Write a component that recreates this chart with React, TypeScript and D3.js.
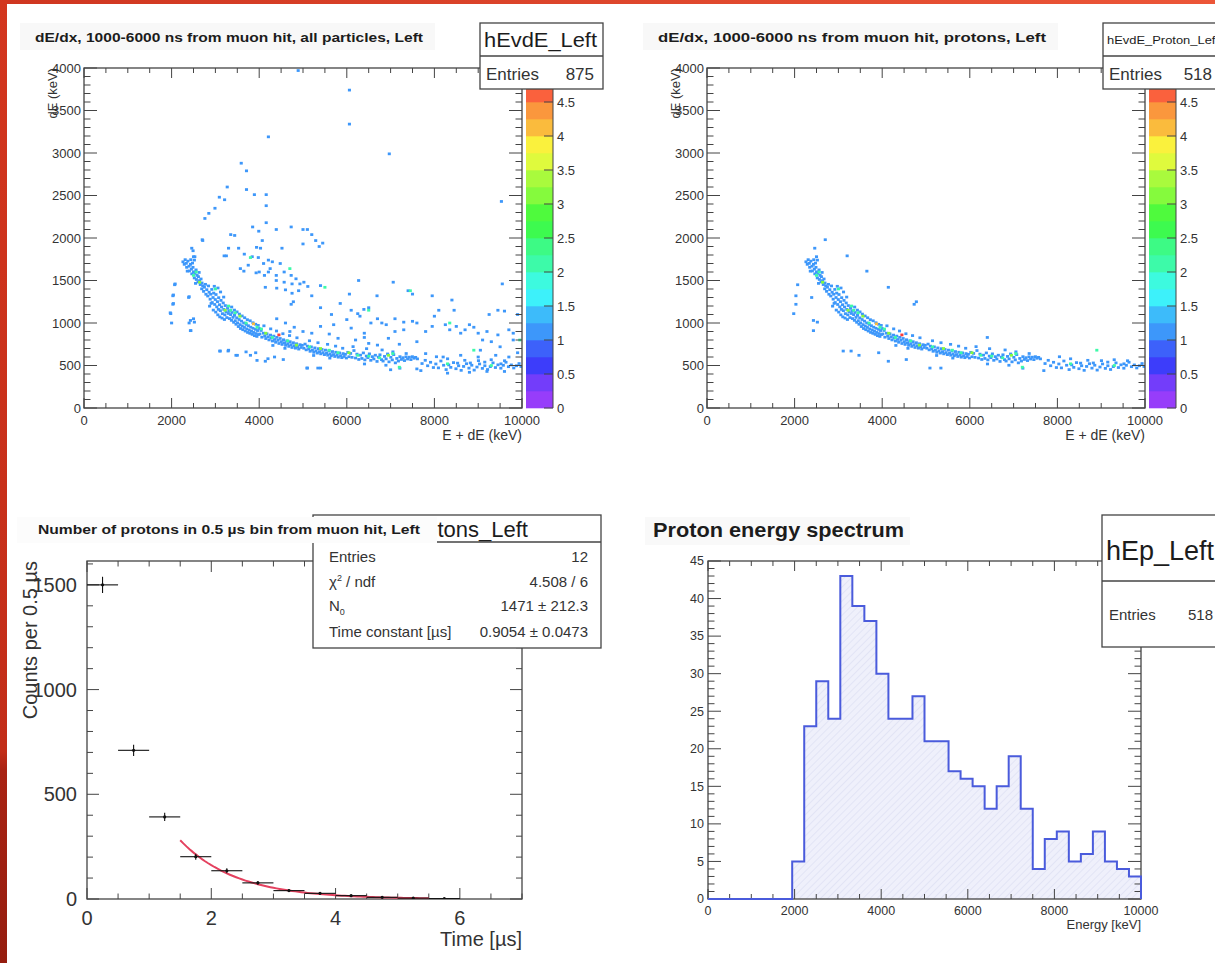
import React from 'react';
import * as d3 from 'd3';

const FONT = '"Liberation Sans", Arial, Helvetica, sans-serif';
const INK = '#1c1c1c';
const AXIS = '#444';

// ---- dE/dx maps: bins hit once, [E + dE (keV), dE (keV)] ----
const protonHits: [number, number][] = [
  [2260,1720],[2290,1690],[2310,1745],[2335,1702],[2345,1655],[2372,1728],[2398,1668],[2405,1612],[2432,1690],[2451,1633],
  [2463,1578],[2487,1655],[2502,1602],[2519,1530],[2533,1584],[2558,1625],[2566,1512],[2581,1560],[2604,1483],[2612,1545],
  [2637,1498],[2655,1452],[2671,1518],[2688,1402],[2693,1471],[2438,1745],[2476,1705],[2547,1466],[2628,1595],[2359,1610],
  [2712,1438],[2731,1372],[2748,1421],[2772,1455],[2784,1338],[2803,1392],[2826,1317],[2842,1436],[2857,1362],[2881,1280],
  [2893,1338],[2918,1395],[2927,1241],[2946,1300],[2961,1352],[2984,1218],[2997,1276],[3013,1335],[3032,1190],[3046,1251],
  [3068,1160],[3075,1298],[3094,1215],[3113,1145],[3127,1266],[3141,1188],[3160,1110],[3178,1236],[3192,1160],[3215,1096],
  [3226,1205],[3244,1132],[3262,1064],[3279,1172],[3295,1112],[2868,1198],[2903,1230],[2952,1152],[3008,1128],[3056,1096],
  [3101,1072],[3152,1058],[3206,1041],[3058,1412],[3117,1365],[2975,1432],[3189,1305],
  [3314,1141],[3322,1052],[3349,1098],[3366,1031],[3381,1124],[3402,1066],[3418,1008],[3437,1090],[3452,1027],[3471,985],
  [3488,1061],[3507,1002],[3524,958],[3541,1041],[3563,981],[3575,935],[3596,1022],[3612,964],[3627,921],[3648,1001],
  [3661,948],[3682,905],[3703,983],[3718,931],[3736,889],[3752,968],[3771,916],[3788,878],[3806,951],[3822,903],
  [3841,866],[3858,938],[3876,889],[3893,851],[3912,925],[3928,876],[3947,842],[3963,911],[3981,864],[3996,936],
  [3371,1188],[3433,1152],[3492,1131],[3547,1105],[3609,1083],[3668,1062],[3729,1039],[3793,1026],[3857,1003],[3918,985],
  [3977,972],
  [4014,871],[4043,912],[4062,833],[4098,880],[4127,846],[4152,817],[4176,873],[4203,838],[4224,801],[4257,858],
  [4271,823],[4302,788],[4333,846],[4351,806],[4376,773],[4402,831],[4428,796],[4451,759],[4478,818],[4505,781],
  [4523,748],[4556,803],[4577,768],[4604,737],[4631,790],[4652,757],[4677,725],[4705,780],[4726,745],[4750,712],
  [4779,768],[4801,733],[4827,704],[4852,756],[4876,722],[4903,693],[4931,745],[4955,712],[4983,738],[4108,967],
  [4262,931],[4395,906],[4541,874],[4693,852],[4862,826],[4312,736],[4588,702],
  [5018,703],[5047,752],[5073,684],[5102,728],[5131,695],[5163,667],[5189,719],[5214,681],[5247,655],[5271,707],
  [5296,672],[5327,646],[5352,698],[5378,663],[5406,637],[5433,689],[5457,652],[5488,628],[5512,681],[5539,645],
  [5566,621],[5591,673],[5618,637],[5645,614],[5672,664],[5697,629],[5726,606],[5751,656],[5778,622],[5806,598],
  [5833,648],[5859,615],[5887,592],[5914,640],[5938,606],[5967,632],[5990,588],[5148,791],[5342,768],[5561,749],
  [5744,728],[5906,703],[5243,618],[5612,587],
  [6024,655],[6051,603],[6087,642],[6119,596],[6163,676],[6201,588],[6232,634],[6274,571],[6311,622],[6345,583],
  [6378,648],[6412,566],[6447,611],[6481,592],[6516,637],[6548,561],[6583,604],[6617,577],[6652,621],[6690,548],
  [6723,598],[6757,626],[6794,569],[6828,552],[6861,607],[6897,578],[6932,636],[6964,543],[7005,597],[7038,566],
  [7071,628],[7109,531],[7142,583],[7178,552],[7213,604],[7246,571],[7283,592],[7317,558],[7352,602],[7389,576],
  [7426,598],[7463,569],[7497,604],[7534,585],[7571,596],[7612,578],[6143,722],[6452,698],[6806,683],[7053,661],
  [7356,641],[6404,518],[6893,503],[7211,468],
  [7718,523],[7791,561],[7846,497],[7912,538],[7977,476],[8033,518],[8092,472],[8148,553],[8211,503],[8268,452],
  [8327,507],[8374,478],[8436,534],[8492,462],[8553,497],[8611,443],[8667,489],[8732,521],[8789,469],[8853,503],
  [8908,446],[8972,482],[9031,518],[9095,466],[9152,497],[9214,453],[9276,487],[9338,531],[9393,476],[9452,508],
  [9517,468],[9573,502],[9634,538],[9691,486],[9756,507],[9812,471],[9874,497],[9933,523],[9978,488],[8047,603],
  [8301,579],[8694,561],[9006,557],[9297,568],[9602,556],[8530,528],[9150,540],[8820,530],[9520,520],
  [2070,1450],[2030,1320],[2030,1220],[1980,1110],[2390,1300],[2430,1030],[2520,1010],[2430,910],[2700,1980],[2460,1880],
  [2500,1780],[2520,1740],[3200,1790],[3650,1610],[4140,1420],[4730,1220],[4780,1250],[3110,670],[3290,670],[3470,620],
  [3920,650],[4140,550],[4550,570],[5090,470],[5340,470],[6400,830],[7690,440],
];

// bins with several entries: [E + dE, dE, entries]
const protonMulti: [number, number, number][] = [
  [2500,1560,2],[2640,1480,3],[2560,1600,2],[3000,1400,2],[3220,1150,3],[3300,1200,2],[3450,1120,2],[3560,1080,3],
  [3700,1000,2],[3870,990,4],[3950,950,2],[4150,880,3],[4300,830,2],[4450,860,5],[4650,790,2],[4850,740,3],
  [5150,720,2],[5400,700,3],[5600,680,2],[6050,650,3],[6250,620,2],[6500,610,2],[6750,590,2],[6950,620,3],
  [7050,640,2],[7200,480,2],[8300,520,2],[8900,680,2],[9300,500,2],[5800,650,2],[4050,930,2],[3350,1150,2],
];

// non-proton entries, only in the all-particle map
const otherHits: [number, number][] = [
  [6060,3740],[6060,3340],[4210,3190],[6970,2990],[3590,2880],[3710,2790],[3270,2600],[3710,2570],[3090,2480],[3210,2450],
  [3890,2510],[4160,2510],[4160,2380],[2990,2350],[2850,2290],[2760,2230],[9530,2430],[4890,3970],[4160,2180],
  [3350,2040],[3440,2030],[3850,2130],[3990,2080],[4390,2100],[4730,2130],[5000,2100],[5100,2100],[5200,2040],[5290,1970],
  [5450,1940],[5370,1900],[5000,1930],[4520,1880],[4070,1970],[4030,1880],[3940,1890],[3530,1880],[3300,1880],[2710,1970],
  [2490,1850],[3250,1790],[3660,1810],[3840,1780],[3980,1770],[4210,1740],[4300,1720],[4480,1700],[4250,1640],[4210,1600],
  [4390,1560],[4570,1600],[4730,1560],[4840,1520],[4390,1500],[4570,1480],[4750,1460],[4930,1460],[5020,1480],[5110,1430],
  [3750,1680],[3570,1640],[3930,1590],[4100,1700],[4000,1600],[4120,1560],[4400,1410],[4600,1390],[4750,1350],[4900,1380],
  [5200,1320],[5400,1440],
  [7060,1480],[6270,1500],[6060,1340],[6690,1320],[6390,1160],[6250,1110],[5850,1230],[6100,1150],[5400,1180],[5650,1100],
  [6000,1040],[6300,1080],[6500,1180],[6700,1050],[6800,1000],[6550,1000],[6900,980],[7100,1050],[7300,1010],[7500,1020],
  [7600,1000],[7400,1380],[7500,1340],[7950,1320],[8400,1270],[8450,1150],[8100,1150],[8000,1080],[8250,980],[8500,960],
  [8700,920],[8900,950],[9000,880],[9200,900],[9450,860],[9700,920],[9800,880],[9900,1100],[9600,1140],[9250,1100],
  [9450,1150],[9550,1460],[8800,980],[8350,920],[8600,880],[7800,900],[7950,960],[7300,920],[7100,900],[6950,820],
  [9100,800],[9300,780],[9800,800],[9500,720],[9050,680],[7600,780],[7200,750],[6700,740],[6400,880],[6100,940],
  [5700,980],[5400,960],[5200,880],[5000,900],[4800,950],[4600,1000],[4400,1050],[2000,1000],[1970,1120],[2040,1330],
  [2080,1460],[2040,1230],[2400,1000],[2440,910],[2400,1310],[2530,1780],[2500,1050],[3100,670],[3300,680],[3500,620],
  [3700,660],[3950,560],[4200,580],[4350,600],[5100,470],[5400,470],[3800,620],[4700,900],[5600,870],[5800,820],
  [6200,800],[6500,760],[7800,640],[8200,600],[8600,620],[9000,600],[9400,620],[9700,600],[9900,650],[7000,450],
  [7600,460],[8300,410],[8800,420],[9200,430],[9600,430],
];
const otherMulti: [number, number, number][] = [
  [4700,1640,2],[5500,1420,2],[7450,1380,2],[3800,1770,2],[6500,1150,2],[9950,800,2],[8350,1000,2],
];
const allEntries = 875;
const protonEntries = 518;

// ---- proton arrival time after the muon hit (0.5 us bins) ----
const timeBinCenters = [0.25, 0.75, 1.25, 1.75, 2.25, 2.75, 3.25, 3.75, 4.25, 4.75, 5.25, 5.75];
const timeCounts = [1500, 710, 392, 202, 135, 77, 40, 27, 16, 8, 4, 2];
const fitN0 = 1471;
const fitTau = 0.9054;
const fitFrom = 1.5;
const fitTo = 5.5;

// ---- proton energy spectrum, 36 bins over 0-10000 keV ----
const energyCounts = [0, 0, 0, 0, 0, 0, 0, 5, 23, 29, 24, 43, 39, 37, 30, 24, 24, 27, 21, 21, 17, 16, 15, 12, 15, 19, 12, 4, 8, 9, 5, 6, 9, 5, 4, 3];

const zMax = 5;
const zLevels = 20;
const binE = 70;
const binDE = 32;

type Tick = { v: number; major: boolean };
function makeTicks(start: number, end: number, step: number, every: number): Tick[] {
  const n = Math.floor((end - start) / step + 1e-9);
  return d3.range(n + 1).map((i) => ({ v: start + i * step, major: i % every === 0 }));
}

// ROOT "pretty" palette, violet -> red
const levelColor = (j: number) => {
  const idx = Math.floor(((j + 0.99) * 50) / zLevels);
  return d3.hsl(280 - (idx * 280) / 49, 0.95, 0.61).formatHex();
};
const countColor = (c: number) => levelColor(Math.min(zLevels - 1, Math.floor(c / (zMax / zLevels))));

function Frame({ x, y, xt, yt, xLen, yLen }: any) {
  const [l, r] = x.range();
  const [b, t] = y.range();
  let d = '';
  xt.forEach((k: Tick) => {
    const p = x(k.v);
    const n = k.major ? xLen : xLen / 2;
    d += `M${p},${b}v${-n}M${p},${t}v${n}`;
  });
  yt.forEach((k: Tick) => {
    const p = y(k.v);
    const n = k.major ? yLen : yLen / 2;
    d += `M${l},${p}h${n}M${r},${p}h${-n}`;
  });
  return (
    <g>
      <path d={d} stroke={AXIS} strokeWidth={1} fill="none" />
      <rect x={l} y={t} width={r - l} height={b - t} fill="none" stroke={AXIS} strokeWidth={1.3} />
    </g>
  );
}

function DedxPanel({ dx, title, titleLen, statName, statSize, statLen, statBase, entries, entriesRight, hits, multi }: any) {
  const x = d3.scaleLinear().domain([0, 10000]).range([84 + dx, 522 + dx]);
  const y = d3.scaleLinear().domain([0, 4000]).range([408, 68]);
  const z = d3.scaleLinear().domain([0, zMax]).range([408, 68]);
  const cw = x(binE) - x(0);
  const ch = y(0) - y(binDE);
  const cells: [number, number, number][] = [...hits.map((h: [number, number]) => [h[0], h[1], 1]), ...multi];
  const clip = `clip-dedx-${dx}`;
  const [l, r] = x.range();
  const cbx = 526 + dx;
  const sx = 480 + dx;
  return (
    <g>
      <rect x={20 + dx} y={23} width={415} height={27} fill="#f8f8f8" />
      <text x={35 + dx} y={42} fontSize={13.5} fontWeight="bold" fill={INK} textLength={titleLen} lengthAdjust="spacingAndGlyphs">
        {title}
      </text>
      <clipPath id={clip}>
        <rect x={l} y={68} width={r - l} height={340} />
      </clipPath>
      <g clipPath={`url(#${clip})`}>
        {cells.map((c, i) => (
          <rect key={i} x={x(c[0]) - cw / 2} y={y(c[1]) - ch / 2} width={cw} height={ch} fill={countColor(c[2])} />
        ))}
      </g>
      <Frame x={x} y={y} xt={makeTicks(0, 10000, 500, 4)} yt={makeTicks(0, 4000, 100, 5)} xLen={10} yLen={13} />
      {d3.range(0, 4001, 500).map((v) => (
        <text key={v} x={l - 3} y={y(v)} dy="0.35em" textAnchor="end" fontSize={13} fill="#333">{v}</text>
      ))}
      {d3.range(0, 10001, 2000).map((v) => (
        <text key={v} x={x(v)} y={425} textAnchor="middle" fontSize={13} fill="#333">{v}</text>
      ))}
      <text x={r} y={440} textAnchor="end" fontSize={14} fill="#333">E + dE (keV)</text>
      <text transform={`translate(${57 + dx},68) rotate(-90)`} textAnchor="end" fontSize={13} fill="#333">dE (keV)</text>
      {d3.range(zLevels).map((j) => (
        <rect key={j} x={cbx} y={z((j + 1) * (zMax / zLevels))} width={27}
          height={z(j * (zMax / zLevels)) - z((j + 1) * (zMax / zLevels)) + 0.3} fill={levelColor(j)} />
      ))}
      <path d={`M${cbx + 27},68V408` + d3.range(0, zMax + 0.01, 0.5).map((v) => `M${cbx + 27},${z(v)}h-9`).join('')}
        stroke={AXIS} strokeWidth={1} fill="none" />
      {d3.range(0, zMax, 0.5).map((v) => (
        <text key={v} x={cbx + 31} y={z(v)} dy="0.35em" fontSize={13} fill="#333">{v}</text>
      ))}
      <rect x={sx} y={23} width={123} height={66} fill="#fff" stroke={AXIS} strokeWidth={1.3} />
      <line x1={sx} x2={sx + 123} y1={56} y2={56} stroke={AXIS} strokeWidth={1.3} />
      <text x={sx + 4} y={statBase} fontSize={statSize} fill={INK} textLength={statLen} lengthAdjust="spacingAndGlyphs">{statName}</text>
      <text x={sx + 6} y={80} fontSize={17} fill="#333">Entries</text>
      <text x={sx + entriesRight} y={80} textAnchor="end" fontSize={17} fill="#333">{entries}</text>
    </g>
  );
}

function DecayPanel() {
  const x = d3.scaleLinear().domain([0, 7]).range([87, 522]);
  const y = d3.scaleLinear().domain([0, 1614]).range([899, 561]);
  const fitT = d3.range(fitFrom, fitTo + 1e-9, 0.05);
  const fitPath = d3.line<number>().x((t) => x(t)).y((t) => y(fitN0 * Math.exp(-t / fitTau)))(fitT) || '';
  const half = 0.25;
  return (
    <g>
      <clipPath id="clip-decay">
        <rect x={87} y={561} width={435} height={338} />
      </clipPath>
      <Frame x={x} y={y} xt={makeTicks(0, 7, 0.5, 4)} yt={makeTicks(0, 1600, 100, 5)} xLen={11} yLen={12} />
      <g clipPath="url(#clip-decay)">
        <path d={fitPath} fill="none" stroke="#e4415f" strokeWidth={2} />
        {timeBinCenters.map((c, i) => {
          const v = timeCounts[i];
          const e = Math.sqrt(v);
          return (
            <g key={i} stroke="#111" strokeWidth={1.1}>
              <line x1={x(c - half)} x2={x(c + half)} y1={y(v)} y2={y(v)} />
              <line x1={x(c)} x2={x(c)} y1={y(v - e)} y2={y(v + e)} />
              <circle cx={x(c)} cy={y(v)} r={1.6} fill="#111" stroke="none" />
            </g>
          );
        })}
      </g>
      {[0, 500, 1000, 1500].map((v) => (
        <text key={v} x={77} y={y(v)} dy="0.35em" textAnchor="end" fontSize={20} fill="#333">{v}</text>
      ))}
      {[0, 2, 4, 6].map((v) => (
        <text key={v} x={x(v)} y={925} textAnchor="middle" fontSize={20} fill="#333">{v}</text>
      ))}
      <text x={522} y={946} textAnchor="end" fontSize={20} fill="#333">Time [µs]</text>
      <text transform="translate(37,561) rotate(-90)" textAnchor="end" fontSize={20} fill="#333">Counts per 0.5 µs</text>
      {/* statistics box */}
      <rect x={313} y={515} width={288} height={133} fill="#fff" stroke={AXIS} strokeWidth={1.3} />
      <line x1={313} x2={601} y1={542} y2={542} stroke={AXIS} strokeWidth={1.3} />
      <text x={391} y={537} fontSize={22} fill={INK}>hProtons_Left</text>
      <g fontSize={15} fill="#333">
        <text x={329} y={562}>Entries</text>
        <text x={588} y={562} textAnchor="end">12</text>
        <text x={329} y={587}>χ<tspan dy={-6} fontSize={9}>2</tspan><tspan dy={6}> / ndf</tspan></text>
        <text x={588} y={587} textAnchor="end">4.508 / 6</text>
        <text x={329} y={611}>N<tspan dy={4} fontSize={9}>0</tspan></text>
        <text x={588} y={611} textAnchor="end">1471 ± 212.3</text>
        <text x={329} y={637}>Time constant [µs]</text>
        <text x={588} y={637} textAnchor="end">0.9054 ± 0.0473</text>
      </g>
      <rect x={17} y={517} width={420} height={26} fill="#fcfcfc" />
      <text x={38} y={534} fontSize={13.5} fontWeight="bold" fill={INK} textLength={382} lengthAdjust="spacingAndGlyphs">
        Number of protons in 0.5 µs bin from muon hit, Left
      </text>
    </g>
  );
}

function SpectrumPanel() {
  const x = d3.scaleLinear().domain([0, 10000]).range([708, 1141]);
  const y = d3.scaleLinear().domain([0, 45]).range([899, 561]);
  const w = 10000 / energyCounts.length;
  let outline = `M${x(0)},${y(0)}`;
  energyCounts.forEach((c, i) => {
    outline += `L${x(i * w)},${y(c)}L${x((i + 1) * w)},${y(c)}`;
  });
  outline += `L${x(10000)},${y(0)}`;
  return (
    <g>
      <defs>
        <pattern id="hatch" width={5} height={5} patternUnits="userSpaceOnUse" patternTransform="rotate(45)">
          <rect width={5} height={5} fill="#eff0fb" />
          <line x1={0} y1={0} x2={0} y2={5} stroke="#d9dcf1" strokeWidth={1.2} />
        </pattern>
      </defs>
      <rect x={645} y={517} width={265} height={28} fill="#f9f9f9" />
      <text x={653} y={537} fontSize={21} fontWeight="bold" fill={INK} textLength={251} lengthAdjust="spacingAndGlyphs">
        Proton energy spectrum
      </text>
      <path d={outline + 'Z'} fill="url(#hatch)" stroke="none" />
      <Frame x={x} y={y} xt={makeTicks(0, 10000, 500, 4)} yt={makeTicks(0, 45, 1, 5)} xLen={10} yLen={13} />
      <path d={outline} fill="none" stroke="#4a5bdc" strokeWidth={2} />
      {d3.range(0, 46, 5).map((v) => (
        <text key={v} x={704} y={y(v)} dy="0.35em" textAnchor="end" fontSize={12.5} fill="#333">{v}</text>
      ))}
      {d3.range(0, 10001, 2000).map((v) => (
        <text key={v} x={x(v)} y={915} textAnchor="middle" fontSize={12.5} fill="#333">{v}</text>
      ))}
      <text x={1141} y={929} textAnchor="end" fontSize={13} fill="#333">Energy [keV]</text>
      <rect x={1102} y={515} width={140} height={132} fill="#fff" stroke={AXIS} strokeWidth={1.3} />
      <line x1={1102} x2={1242} y1={581} y2={581} stroke={AXIS} strokeWidth={1.3} />
      <text x={1106} y={560} fontSize={27} fill={INK}>hEp_Left</text>
      <text x={1109} y={620} fontSize={15} fill="#333">Entries</text>
      <text x={1188} y={620} fontSize={15} fill="#333">{protonEntries}</text>
    </g>
  );
}

export default function App() {
  return (
    <svg width={1215} height={963} viewBox="0 0 1215 963"
      style={{ position: 'absolute', left: 0, top: 0, background: '#fff', fontFamily: FONT }}>
      <defs>
        <linearGradient id="topStrip" x1="0" x2="1" y1="0" y2="0">
          <stop offset="0" stopColor="#cf3620" />
          <stop offset="1" stopColor="#ec5638" />
        </linearGradient>
        <linearGradient id="leftStrip" x1="0" x2="0" y1="0" y2="1">
          <stop offset="0" stopColor="#d3361e" />
          <stop offset="0.78" stopColor="#c22d18" />
          <stop offset="0.8" stopColor="#a92313" />
          <stop offset="1" stopColor="#951d0f" />
        </linearGradient>
      </defs>
      <rect width={1215} height={963} fill="#fff" />
      <DedxPanel dx={0} title="dE/dx, 1000-6000 ns from muon hit, all particles, Left" titleLen={388}
        statName="hEvdE_Left" statSize={21} statLen={113} statBase={47} entries={allEntries} entriesRight={114}
        hits={[...protonHits, ...otherHits]} multi={[...protonMulti, ...otherMulti]} />
      <DedxPanel dx={623} title="dE/dx, 1000-6000 ns from muon hit, protons, Left" titleLen={388}
        statName="hEvdE_Proton_Left" statSize={10} statLen={112} statBase={44} entries={protonEntries} entriesRight={109}
        hits={protonHits} multi={protonMulti} />
      <DecayPanel />
      <SpectrumPanel />
      <rect x={0} y={0} width={1215} height={4} fill="url(#topStrip)" />
      <rect x={0} y={0} width={7} height={963} fill="url(#leftStrip)" />
    </svg>
  );
}
